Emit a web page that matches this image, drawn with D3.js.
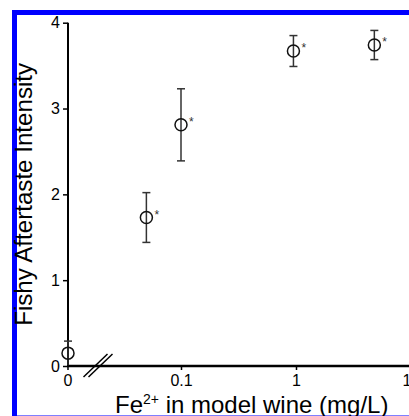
<!DOCTYPE html>
<html>
<head>
<meta charset="utf-8">
<script src="https://cdn.jsdelivr.net/npm/d3@7"></script>
<style>
  html, body { margin: 0; padding: 0; background: #fff; }
  svg { display: block; font-family: "Liberation Sans", Arial, sans-serif; }
</style>
</head>
<body>
<svg id="chart" width="409" height="416"></svg>
<script>
// Fe2+ concentration (mg/L), 0 is the control drawn left of the axis break
const concentrations = [0, 0.05, 0.1, 0.95, 4.8];
const intensity = [0.15, 1.73, 2.81, 3.67, 3.74];
const errors = [0.14, 0.29, 0.42, 0.18, 0.17];
const significant = [false, true, true, true, true];
const yTicks = [0, 1, 2, 3, 4];
const xTicks = [0.1, 1, 10];

const width = 409, height = 416;
const originX = 68, originY = 366;

const svg = d3.select("#chart");

// frame around the figure
svg.append("rect").attr("x", 12).attr("y", 10).attr("width", width - 12).attr("height", 5).attr("fill", "#0000ff");
svg.append("rect").attr("x", 12).attr("y", 10).attr("width", 5).attr("height", height - 10).attr("fill", "#0000ff");
svg.append("line").attr("x1", 17).attr("x2", width).attr("y1", 415.5).attr("y2", 415.5)
  .attr("stroke", "#7f7fff").attr("stroke-width", 1);

const y = d3.scaleLinear().domain([0, 4]).range([originY, 22.7]);
const xLog = d3.scaleLog().domain([0.1, 10]).range([181, 411]);
// zero can't sit on a log scale, so it goes at the origin
const x = v => v === 0 ? originX : xLog(v);

// y axis
const yAxis = svg.append("g")
  .attr("transform", "translate(" + originX + ",0)")
  .call(d3.axisLeft(y).tickValues(yTicks).tickFormat(d3.format("d")).tickSize(5).tickPadding(3));
yAxis.select(".domain").remove();
yAxis.selectAll("line").attr("stroke", "#000").attr("stroke-width", 1.5);
yAxis.selectAll("text").attr("font-size", 16).attr("font-family", "Liberation Sans, Arial, sans-serif").attr("fill", "#000");
svg.append("line").attr("x1", originX).attr("x2", originX).attr("y1", y(4)).attr("y2", originY + 1)
  .attr("stroke", "#000").attr("stroke-width", 2);

// x axis
const xAxis = svg.append("g")
  .attr("transform", "translate(0," + originY + ")")
  .call(d3.axisBottom(xLog).tickValues(xTicks).tickFormat(d => String(d)).tickSize(4).tickPadding(5));
xAxis.select(".domain").remove();
xAxis.selectAll("line").attr("stroke", "#000").attr("stroke-width", 1.5);
xAxis.selectAll("text").attr("font-size", 16).attr("font-family", "Liberation Sans, Arial, sans-serif").attr("fill", "#000");
xAxis.append("line").attr("x1", originX).attr("x2", originX).attr("y1", 0).attr("y2", 4)
  .attr("stroke", "#000").attr("stroke-width", 1.5);
xAxis.append("text").attr("x", originX).attr("y", 9).attr("dy", "0.71em")
  .attr("text-anchor", "middle").attr("font-size", 16).attr("fill", "#000").text("0");
svg.append("line").attr("x1", originX - 1).attr("x2", width).attr("y1", originY).attr("y2", originY)
  .attr("stroke", "#000").attr("stroke-width", 2.5);

// axis break marks
const breakX = originX + 30;
[-2.5, 2.5].forEach(off => {
  svg.append("line")
    .attr("x1", breakX + off - 12).attr("y1", originY + 11)
    .attr("x2", breakX + off + 12).attr("y2", originY - 12)
    .attr("stroke", "#000").attr("stroke-width", 1.5);
});

// error bars
const bars = svg.append("g").attr("stroke", "#333").attr("stroke-width", 1.5);
concentrations.forEach((c, i) => {
  const cx = x(c);
  const top = Math.max(y(intensity[i] + errors[i]), 0);
  const bottom = Math.min(y(intensity[i] - errors[i]), originY);
  bars.append("line").attr("x1", cx).attr("x2", cx).attr("y1", top).attr("y2", bottom);
  bars.append("line").attr("x1", cx - 4).attr("x2", cx + 4).attr("y1", y(intensity[i] + errors[i])).attr("y2", y(intensity[i] + errors[i]));
  if (y(intensity[i] - errors[i]) < originY - 2) {
    bars.append("line").attr("x1", cx - 4).attr("x2", cx + 4).attr("y1", y(intensity[i] - errors[i])).attr("y2", y(intensity[i] - errors[i]));
  }
});

// points
svg.append("g").selectAll("circle")
  .data(concentrations)
  .enter()
  .append("circle")
  .attr("cx", d => x(d))
  .attr("cy", (d, i) => y(intensity[i]))
  .attr("r", 6)
  .attr("fill", "none")
  .attr("stroke", "#111")
  .attr("stroke-width", 1.5);

// significance stars
svg.append("g").selectAll("text")
  .data(concentrations.filter((d, i) => significant[i]))
  .enter()
  .append("text")
  .attr("x", d => x(d) + 8)
  .attr("y", d => y(intensity[concentrations.indexOf(d)]) + 1)
  .attr("font-size", 12)
  .attr("fill", "#333")
  .text("*");

// axis titles
svg.append("text")
  .attr("transform", "translate(32," + ((y(0) + y(4)) / 2) + ") rotate(-90)")
  .attr("text-anchor", "middle")
  .attr("font-size", 23)
  .attr("textLength", 263)
  .attr("lengthAdjust", "spacingAndGlyphs")
  .attr("fill", "#000")
  .text("Fishy Aftertaste Intensity");

const xTitle = svg.append("text")
  .attr("x", 115).attr("y", 413)
  .attr("font-size", 24)
  .attr("fill", "#000");
xTitle.append("tspan").text("Fe");
xTitle.append("tspan").attr("font-size", 14).attr("dy", -9).text("2+");
xTitle.append("tspan").attr("dy", 9).text(" in model wine (mg/L)");
</script>
</body>
</html>
